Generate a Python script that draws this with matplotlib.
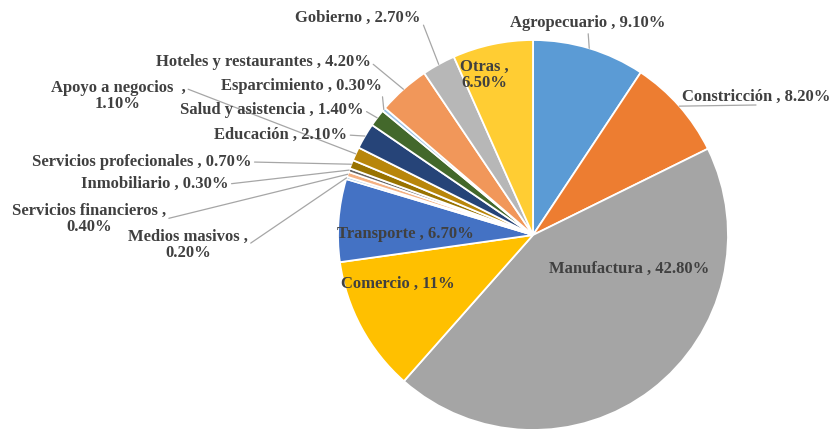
# Participación por sector económico - gráfico de pastel
import numpy as np
import matplotlib.pyplot as plt

sectores = ["Agropecuario", "Constricción", "Manufactura", "Comercio", "Transporte",
            "Medios masivos", "Servicios financieros", "Inmobiliario",
            "Servicios profecionales", "Apoyo a negocios", "Educación",
            "Salud y asistencia", "Esparcimiento", "Hoteles y restaurantes",
            "Gobierno", "Otras"]
porcentajes = [9.1, 8.2, 42.8, 11, 6.7, 0.2, 0.4, 0.3, 0.7, 1.1, 2.1, 1.4, 0.3, 4.2, 2.7, 6.5]
etiquetas = ["Agropecuario , 9.10%", "Constricción , 8.20%", "Manufactura , 42.80%",
             "Comercio , 11%", "Transporte , 6.70%", "Medios masivos ,\n0.20%",
             "Servicios financieros ,\n0.40%", "Inmobiliario , 0.30%",
             "Servicios profecionales , 0.70%", "Apoyo a negocios  ,\n1.10%",
             "Educación , 2.10%", "Salud y asistencia , 1.40%",
             "Esparcimiento , 0.30%", "Hoteles y restaurantes , 4.20%",
             "Gobierno , 2.70%", "Otras ,\n6.50%"]
colores = ["#5B9BD5", "#ED7D31", "#A5A5A5", "#FFC000", "#4472C4", "#9DC3E6",
           "#F4B183", "#636363", "#997300", "#B8860B", "#264478", "#43682B",
           "#9DC3E6", "#F1975A", "#B7B7B7", "#FFCD33"]

# posición de las etiquetas en pixeles (x, y desde arriba), y si van dentro
W, H = 835, 429
cx, cy, R = 533, 235, 195
pos_etq = {
    0: (588, 23), 1: (756, 97), 2: (629, 269), 3: (398, 284), 4: (405, 234),
    5: (188, 245), 6: (89, 219), 7: (155, 184), 8: (142, 162), 9: (118, 96),
    10: (281, 135), 11: (272, 110), 12: (301, 86), 13: (263, 62),
    14: (358, 18), 15: (484, 75),
}
dentro = [2, 3, 4, 15]


def px(x, y):
    return (x - cx) / R, (cy - y) / R


fig = plt.figure(figsize=(W / 100, H / 100), dpi=100)
ax = fig.add_axes([0, 0, 1, 1])

cunas, _ = ax.pie(porcentajes, colors=colores, startangle=90, counterclock=False,
                  radius=1.0, wedgeprops=dict(edgecolor="white", linewidth=1.3))

ax.set_xlim(px(0, 0)[0], px(W, 0)[0])
ax.set_ylim(px(0, H)[1], px(0, 0)[1])
ax.set_aspect("equal")
ax.axis("off")

fuente = dict(family="Liberation Serif", fontweight="bold", fontsize=12,
              color="#404040", ha="center", va="center", linespacing=0.95)

for i, c in enumerate(cunas):
    tx, ty = px(*pos_etq[i])
    if i in dentro:
        ax.text(tx, ty, etiquetas[i], **fuente)
        continue
    ang = np.deg2rad((c.theta1 + c.theta2) / 2)
    punta = (np.cos(ang) * 1.0, np.sin(ang) * 1.0)
    if tx < punta[0] - 0.3:
        rel = (1.0, 0.5)
    elif ty > punta[1]:
        rel = (0.5, 0.0)
    else:
        rel = (0.0, 0.5)
    if i == 9:
        rel = (1.0, 0.75)
    ax.annotate(etiquetas[i], xy=punta, xytext=(tx, ty),
                arrowprops=dict(arrowstyle="-", color="#A6A6A6", lw=0.9,
                                relpos=rel, shrinkA=0, shrinkB=0),
                **fuente)

plt.savefig("out.png", dpi=100)
